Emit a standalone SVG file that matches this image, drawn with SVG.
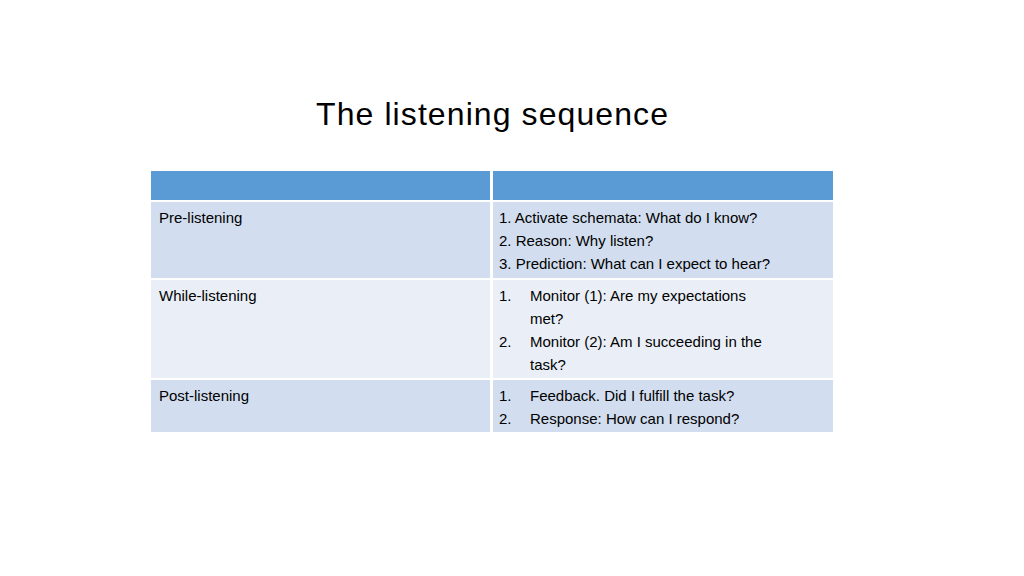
<svg xmlns="http://www.w3.org/2000/svg" width="1024" height="576" viewBox="0 0 1024 576">
<style>
text{font-family:"Liberation Sans",Arial,sans-serif;fill:#000}
.b{font-size:15px}
.t{font-size:32px}
</style>
<rect width="1024" height="576" fill="#fff"/>
<text class="t" x="316" y="125" textLength="352">The listening sequence</text>
<g id="table">
<rect x="151" y="171" width="682" height="261" fill="#fff"/>
<rect x="151" y="171" width="339" height="29" fill="#5B9BD5"/>
<rect x="493" y="171" width="340" height="29" fill="#5B9BD5"/>
<rect x="151" y="202" width="339" height="76" fill="#D2DEEF"/>
<rect x="493" y="202" width="340" height="76" fill="#D2DEEF"/>
<rect x="151" y="280" width="339" height="98" fill="#EAEFF7"/>
<rect x="493" y="280" width="340" height="98" fill="#EAEFF7"/>
<rect x="151" y="380" width="339" height="52" fill="#D2DEEF"/>
<rect x="493" y="380" width="340" height="52" fill="#D2DEEF"/>
</g>
<g id="pre">
<text class="b" x="159" y="223">Pre-listening</text>
<text class="b" x="499" y="223">1. Activate schemata: What do I know?</text>
<text class="b" x="499" y="246">2. Reason: Why listen?</text>
<text class="b" x="499" y="269">3. Prediction: What can I expect to hear?</text>
</g>
<g id="while">
<text class="b" x="159" y="301">While-listening</text>
<text class="b" x="499" y="301">1.</text><text class="b" x="530" y="301">Monitor (1): Are my expectations</text>
<text class="b" x="530" y="324">met?</text>
<text class="b" x="499" y="347">2.</text><text class="b" x="530" y="347">Monitor (2): Am I succeeding in the</text>
<text class="b" x="530" y="370">task?</text>
</g>
<g id="post">
<text class="b" x="159" y="401">Post-listening</text>
<text class="b" x="499" y="401">1.</text><text class="b" x="530" y="401">Feedback. Did I fulfill the task?</text>
<text class="b" x="499" y="424">2.</text><text class="b" x="530" y="424">Response: How can I respond?</text>
</g>
<g id="connectors"/>
</svg>
